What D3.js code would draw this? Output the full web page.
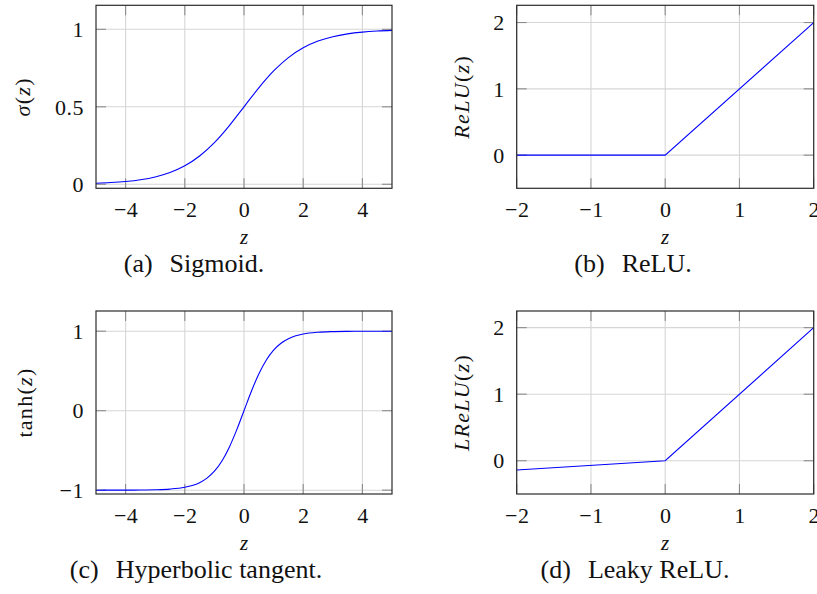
<!DOCTYPE html>
<html><head><meta charset="utf-8">
<script src="https://cdn.jsdelivr.net/npm/d3@7"></script>
<style>
body{margin:0;background:#fff;}
svg text{font-family:"Liberation Serif","DejaVu Serif",serif;fill:#111;}
</style></head>
<body><svg id="c" width="817" height="594"></svg>
<script>
// ---- data ----
const sigmoidZ = [-5,-4.5,-4,-3.5,-3,-2.5,-2,-1.5,-1,-0.5,0,0.5,1,1.5,2,2.5,3,3.5,4,4.5,5];
const sigmoidV = [0.0067,0.0110,0.0180,0.0293,0.0474,0.0759,0.1192,0.1824,0.2689,0.3775,0.5,0.6225,0.7311,0.8176,0.8808,0.9241,0.9526,0.9707,0.9820,0.9890,0.9933];
const tanhZ = [-5,-4.5,-4,-3.5,-3,-2.5,-2,-1.75,-1.5,-1.25,-1,-0.75,-0.5,-0.25,0,0.25,0.5,0.75,1,1.25,1.5,1.75,2,2.5,3,3.5,4,4.5,5];
const tanhV = [-0.9999,-0.9998,-0.9993,-0.9982,-0.9951,-0.9866,-0.9640,-0.9414,-0.9051,-0.8483,-0.7616,-0.6351,-0.4621,-0.2449,0,0.2449,0.4621,0.6351,0.7616,0.8483,0.9051,0.9414,0.9640,0.9866,0.9951,0.9982,0.9993,0.9998,0.9999];
const reluZ = [-2,0,2];
const reluV = [0,0,2];
const lreluZ = [-2,0,2];
const lreluV = [-0.14,0,2];

const sigXTicks = [-4,-2,0,2,4], sigYTicks = [0,0.5,1];
const tanhXTicks = [-4,-2,0,2,4], tanhYTicks = [-1,0,1];
const reluXTicks = [-2,-1,0,1,2], reluYTicks = [0,1,2];

const captionTags = ["(a)","(b)","(c)","(d)"];
const captionTexts = ["Sigmoid.","ReLU.","Hyperbolic tangent.","Leaky ReLU."];

const panels = [
  {z:sigmoidZ, v:sigmoidV, xd:[-5,5], yd:[-0.026,1.155], xt:sigXTicks, yt:sigYTicks, ylabType:"sigma",
   box:[96,392,5.3,188.3], capX:194, ylx:23},
  {z:reluZ, v:reluV, xd:[-2,2], yd:[-0.5,2.26], xt:reluXTicks, yt:reluYTicks, ylabType:"relu",
   box:[516.7,813.7,5.3,188.3], capX:633, ylx:462},
  {z:tanhZ, v:tanhV, xd:[-5,5], yd:[-1.048,1.254], xt:tanhXTicks, yt:tanhYTicks, ylabType:"tanh",
   box:[96,392,311,494], capX:196, ylx:25},
  {z:lreluZ, v:lreluV, xd:[-2,2], yd:[-0.5,2.25], xt:reluXTicks, yt:reluYTicks, ylabType:"lrelu",
   box:[516.7,813.7,311,494], capX:635, ylx:462}
];

const svg = d3.select("#c");
const fmt = v => (v<0? "\u2212"+Math.abs(v) : String(v));
const tickLen = 10;
const FS = 22;

panels.forEach((p,pi) => {
  const [x0,x1,y0,y1] = p.box;
  const x = d3.scaleLinear().domain(p.xd).range([x0,x1]);
  const y = d3.scaleLinear().domain(p.yd).range([y1,y0]);
  const g = svg.append("g");
  // grid
  g.append("g").selectAll("line").data(p.xt).join("line")
    .attr("x1",d=>x(d)).attr("x2",d=>x(d)).attr("y1",y0).attr("y2",y1)
    .attr("stroke","#d6d6d6").attr("stroke-width",1.1);
  g.append("g").selectAll("line").data(p.yt).join("line")
    .attr("y1",d=>y(d)).attr("y2",d=>y(d)).attr("x1",x0).attr("x2",x1)
    .attr("stroke","#d6d6d6").attr("stroke-width",1.1);
  // ticks (inside, all four sides)
  const tk = g.append("g").attr("stroke","#8c8c8c").attr("stroke-width",1.1);
  p.xt.forEach(d=>{
    tk.append("line").attr("x1",x(d)).attr("x2",x(d)).attr("y1",y1).attr("y2",y1-tickLen);
    tk.append("line").attr("x1",x(d)).attr("x2",x(d)).attr("y1",y0).attr("y2",y0+tickLen);
  });
  p.yt.forEach(d=>{
    tk.append("line").attr("y1",y(d)).attr("y2",y(d)).attr("x1",x0).attr("x2",x0+tickLen);
    tk.append("line").attr("y1",y(d)).attr("y2",y(d)).attr("x1",x1).attr("x2",x1-tickLen);
  });
  // curve
  const pts = p.z.map((z,i)=>[z,p.v[i]]);
  const line = d3.line().x(d=>x(d[0])).y(d=>y(d[1]))
    .curve(pts.length>3? d3.curveMonotoneX : d3.curveLinear);
  g.append("path").datum(pts).attr("d",line).attr("fill","none")
    .attr("stroke","#0000ff").attr("stroke-width",1.1);
  // frame
  g.append("rect").attr("x",x0).attr("y",y0).attr("width",x1-x0).attr("height",y1-y0)
    .attr("fill","none").attr("stroke","#2b2b2b").attr("stroke-width",1.2);
  // tick labels
  const xAxis = d3.axisBottom(x).tickValues(p.xt).tickFormat(fmt).tickSize(0).tickPadding(0);
  const ax = g.append("g").attr("transform",`translate(0,${y1})`).call(xAxis);
  ax.select(".domain").remove();
  ax.selectAll("text").attr("font-size",FS).attr("dy",null).attr("y",29)
    .style("font-family","'Liberation Serif',serif").style("letter-spacing","0.5px");
  const yAxis = d3.axisLeft(y).tickValues(p.yt).tickFormat(fmt).tickSize(0).tickPadding(0);
  const ay = g.append("g").attr("transform",`translate(${x0-12},0)`).call(yAxis);
  ay.select(".domain").remove();
  ay.selectAll("text").attr("font-size",FS).attr("dy","0.33em")
    .style("font-family","'Liberation Serif',serif").style("letter-spacing","0.5px");
  // x label
  g.append("text").attr("x",(x0+x1)/2).attr("y",y1+56).attr("text-anchor","middle")
    .attr("font-size",21).attr("font-style","italic").text("z");
  // y label
  const yl = g.append("text").attr("transform",`translate(${p.ylx},${(y0+y1)/2}) rotate(-90)`)
    .attr("text-anchor","middle").attr("dy","0.32em").attr("font-size",FS)
    .style("letter-spacing","1.3px");
  if(p.ylabType==="sigma"){
    yl.append("tspan").attr("font-style","italic").text("σ");
    yl.append("tspan").text("(");
    yl.append("tspan").attr("font-style","italic").text("z");
    yl.append("tspan").text(")");
  } else if(p.ylabType==="tanh"){
    yl.append("tspan").text("tanh(");
    yl.append("tspan").attr("font-style","italic").text("z");
    yl.append("tspan").text(")");
  } else {
    yl.append("tspan").attr("font-style","italic").text(p.ylabType==="relu"?"ReLU":"LReLU");
    yl.append("tspan").text("(");
    yl.append("tspan").attr("font-style","italic").text("z");
    yl.append("tspan").text(")");
  }
  // caption
  const cap = g.append("text").attr("x",p.capX).attr("y",y1+84).attr("text-anchor","middle")
    .attr("font-size",26);
  cap.append("tspan").text(captionTags[pi]);
  cap.append("tspan").attr("dx",17).text(captionTexts[pi]);
});
</script></body></html>
